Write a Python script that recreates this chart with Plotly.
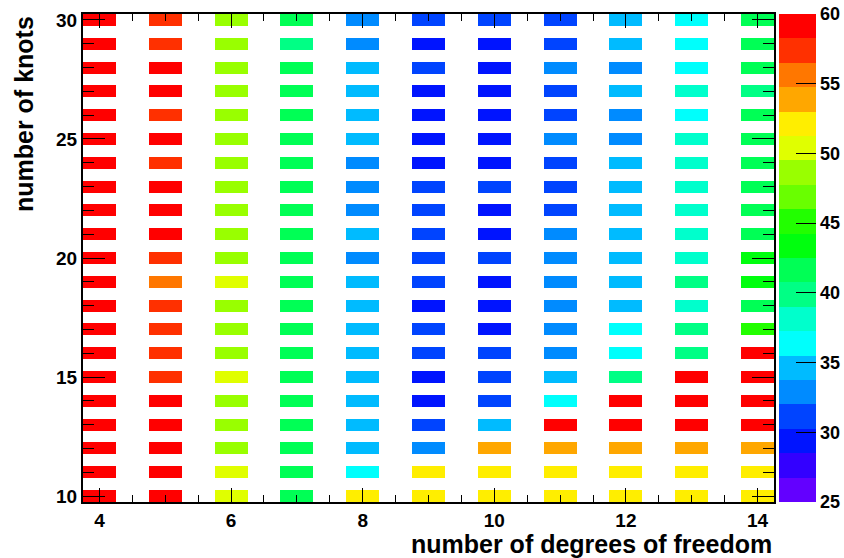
import colorsys
import plotly.graph_objects as go

# Fit quality (chi2) scan: number of degrees of freedom vs number of knots
knots = list(range(10, 31))
dof = list(range(4, 15))

# one list per number of degrees of freedom, ordered by knots 10 .. 30
chi2_dof4 = [59, 59, 59, 59, 59, 59, 59, 59, 59, 59, 59, 59, 59, 59, 59, 59, 59, 59, 59, 59, 59]
chi2_dof5 = [59, 59, 59, 59, 59, 57.5, 57.5, 57.5, 57.5, 55.5, 57.5, 59, 59, 59, 57.5, 59, 57.5, 59, 59, 57.5, 57.5]
chi2_dof6 = [50.5, 50.5, 48.5, 48.5, 48.5, 50.5, 48.5, 48.5, 48.5, 50.5, 48.5, 48.5, 48.5, 48.5, 48.5, 48.5, 48.5, 48.5, 48.5, 48.5, 48.5]
chi2_dof7 = [41.5, 41.5, 41.5, 41.5, 41.5, 41.5, 41.5, 41.5, 41.5, 41.5, 41.5, 41.5, 41.5, 41.5, 41.5, 41.5, 41.5, 41.5, 41.5, 40, 41.5]
chi2_dof8 = [52, 36.5, 34.5, 34.5, 34.5, 34.5, 34.5, 34.5, 34.5, 34.5, 33, 34.5, 33, 33, 33, 34.5, 34.5, 34.5, 34.5, 33, 33]
chi2_dof9 = [52, 52, 33, 31, 29.5, 29.5, 31, 31, 29.5, 31, 31, 31, 31, 31, 29.5, 29.5, 29.5, 29.5, 31, 29.5, 31]
chi2_dof10 = [52, 52, 54, 34.5, 31, 31, 31, 29.5, 29.5, 29.5, 31, 29.5, 29.5, 31, 29.5, 29.5, 29.5, 29.5, 29.5, 29.5, 31]
chi2_dof11 = [52, 52, 54, 59, 36.5, 34.5, 33, 33, 33, 33, 33, 33, 31, 31, 31, 33, 31, 31, 33, 31, 31]
chi2_dof12 = [52, 52, 54, 59, 59, 40, 36.5, 36.5, 34.5, 34.5, 34.5, 34.5, 34.5, 34.5, 34.5, 33, 33, 34.5, 33, 34.5, 34.5]
chi2_dof13 = [52, 52, 54, 59, 59, 59, 40, 40, 38, 40, 38, 38, 38, 38, 38, 38, 36.5, 38, 36.5, 36.5, 36.5]
chi2_dof14 = [52, 52, 54, 59, 59, 59, 59, 45, 41.5, 43.5, 43.5, 41.5, 41.5, 41.5, 41.5, 41.5, 41.5, 40, 41.5, 41.5, 41.5]

columns = [chi2_dof4, chi2_dof5, chi2_dof6, chi2_dof7, chi2_dof8, chi2_dof9,
           chi2_dof10, chi2_dof11, chi2_dof12, chi2_dof13, chi2_dof14]

zmin, zmax, ncont = 25, 60, 20
bin_w = 0.5

# histogram binning: half-unit bins, only integer bins are filled
x_centers = [dof[0] + bin_w * i for i in range(int((dof[-1] - dof[0]) / bin_w) + 1)]
y_centers = [knots[0] + bin_w * j for j in range(int((knots[-1] - knots[0]) / bin_w) + 1)]
z = []
for yc in y_centers:
    row = []
    for xc in x_centers:
        if float(xc).is_integer() and float(yc).is_integer():
            row.append(columns[dof.index(int(xc))][knots.index(int(yc))])
        else:
            row.append(None)
    z.append(row)

# ROOT "pretty" palette (violet -> red), 20 contour levels
def level_color(j):
    idx = int((j + 0.99) * 50 / ncont)
    hue = 280 - (idx + 1) * 280 / 50
    r, g, b = colorsys.hls_to_rgb(hue / 360.0, 0.5, 1.0)
    return "rgb(%d,%d,%d)" % (round(r * 255), round(g * 255), round(b * 255))

colorscale = []
for j in range(ncont):
    c = level_color(j)
    colorscale.append([j / ncont, c])
    colorscale.append([(j + 1) / ncont, c])

FONT = "Liberation Sans"

fig = go.Figure(go.Heatmap(
    x=x_centers, y=y_centers, z=z,
    zmin=zmin, zmax=zmax, colorscale=colorscale,
    hoverongaps=False,
    colorbar=dict(
        x=1.007, xanchor="left", xpad=0, ypad=0,
        y=0.5, yanchor="middle", len=1.0, lenmode="fraction",
        thickness=37, outlinewidth=0,
        tick0=25, dtick=5, ticks="inside", ticklen=20, tickcolor="black", tickwidth=1,
        tickfont=dict(family=FONT, size=18, color="black", weight="bold"),
    ),
))

fig.update_xaxes(
    range=[dof[0] - 0.25, dof[-1] + 0.25],
    tick0=0, dtick=2, ticks="inside", ticklen=14, tickcolor="black", tickwidth=1,
    minor=dict(dtick=0.5, ticks="inside", ticklen=7, tickcolor="black", tickwidth=1),
    showline=True, linecolor="black", linewidth=2, mirror="allticks",
    showgrid=False, zeroline=False,
    tickfont=dict(family=FONT, size=19, color="black", weight="bold"),
)
fig.update_yaxes(
    range=[knots[0] - 0.25, knots[-1] + 0.25],
    tick0=0, dtick=5, ticks="inside", ticklen=22, tickcolor="black", tickwidth=1,
    minor=dict(dtick=1, ticks="inside", ticklen=11, tickcolor="black", tickwidth=1),
    showline=True, linecolor="black", linewidth=2, mirror="allticks",
    showgrid=False, zeroline=False,
    tickfont=dict(family=FONT, size=19, color="black", weight="bold"),
)

fig.update_layout(
    width=844, height=558,
    margin=dict(l=83, r=70, t=14, b=56, autoexpand=False),
    paper_bgcolor="white", plot_bgcolor="white",
    showlegend=False,
    annotations=[
        dict(text="number of degrees of freedom", xref="paper", yref="paper",
             x=1, y=0, xanchor="right", yanchor="top", yshift=-26, showarrow=False,
             font=dict(family=FONT, size=25, color="black", weight="bold")),
        dict(text="number of knots", xref="paper", yref="paper",
             x=0, y=1, xanchor="center", yanchor="top", xshift=-59, showarrow=False,
             textangle=-90,
             font=dict(family=FONT, size=25, color="black", weight="bold")),
    ],
)

fig.write_html("out.html")
